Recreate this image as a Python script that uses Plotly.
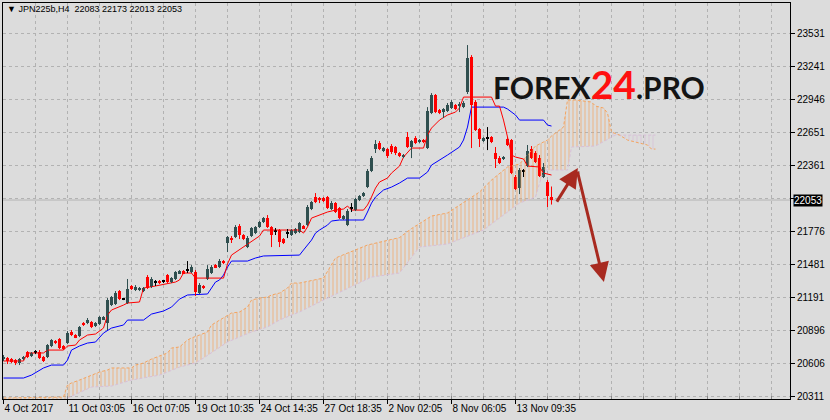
import plotly.graph_objects as go

# ---------------- data ----------------
symbol_text = "JPN225b,H4"
last_ohlc = [22083, 22173, 22013, 22053]
bid = 22053

tick_bars = [0, 16, 32, 48, 64, 80, 96, 112, 128]
tick_labels = ["4 Oct 2017", "11 Oct 03:05", "16 Oct 07:05", "19 Oct 10:35", "24 Oct 14:35",
               "27 Oct 18:35", "2 Nov 02:05", "8 Nov 06:05", "13 Nov 09:35"]
price_ticks = [23531, 23241, 22946, 22651, 22361, 21776, 21481, 21191, 20896, 20606, 20311]
hidden_grid = [22068]

open_ = [
    20643, 20652, 20643, 20634, 20608, 20643, 20705, 20670, 20705, 20705,
    20661, 20661, 20758, 20803, 20820, 20758, 20785, 20882, 20855, 20847,
    20962, 20962, 20971, 20936, 20953, 20998, 20962, 21122, 21131, 21246,
    21175, 21139, 21291, 21255, 21255, 21246, 21370, 21282, 21326, 21335,
    21335, 21388, 21326, 21353, 21406, 21423, 21432, 21415, 21415, 21229,
    21291, 21353, 21406, 21476, 21459, 21512, 21672, 21716, 21725, 21822,
    21743, 21636, 21734, 21760, 21813, 21858, 21894, 21813, 21778, 21787,
    21707, 21760, 21743, 21760, 21769, 21822, 21831, 21973, 22080, 22071,
    22071, 22080, 21973, 22026, 21982, 21884, 21831, 21982, 21964, 22053,
    22089, 22168, 22310, 22505, 22558, 22487, 22505, 22532, 22523, 22470,
    22434, 22611, 22523, 22602, 22567, 22585, 22514, 22824, 22984, 22851,
    22833, 22842, 22868, 22895, 22886, 22877, 23010, 23321, 22922, 22683,
    22576, 22602, 22611, 22470, 22425, 22417, 22594, 22585, 22257, 22159,
    22310, 22354, 22505, 22470, 22425, 22257, 22213, 22083]
high = [
    20679, 20661, 20652, 20643, 20652, 20670, 20714, 20705, 20723, 20723,
    20670, 20776, 20820, 20812, 20829, 20767, 20891, 20900, 20864, 20936,
    20971, 21007, 20980, 20971, 21024, 21024, 21184, 21202, 21246, 21255,
    21184, 21353, 21299, 21299, 21282, 21282, 21388, 21370, 21344, 21344,
    21344, 21397, 21370, 21423, 21432, 21432, 21512, 21476, 21432, 21317,
    21299, 21476, 21476, 21485, 21530, 21521, 21734, 21734, 21831, 21840,
    21751, 21734, 21813, 21822, 21867, 21902, 21920, 21822, 21805, 21796,
    21716, 21796, 21796, 21805, 21858, 21831, 22009, 22044, 22115, 22080,
    22080, 22089, 22044, 22035, 21991, 21920, 21973, 22026, 22071, 22097,
    22124, 22328, 22443, 22585, 22576, 22523, 22514, 22549, 22532, 22478,
    22461, 22656, 22585, 22620, 22594, 22594, 22877, 23001, 22993, 22860,
    22868, 22913, 22939, 22904, 22922, 22930, 23427, 23338, 22939, 22691,
    22611, 22700, 22620, 22523, 22443, 22443, 22611, 22594, 22275, 22337,
    22328, 22541, 22532, 22487, 22452, 22381, 22230, 22173]
low = [
    20625, 20599, 20608, 20590, 20590, 20634, 20652, 20661, 20687, 20643,
    20617, 20652, 20749, 20776, 20732, 20723, 20776, 20847, 20829, 20838,
    20936, 20953, 20918, 20927, 20944, 20989, 20900, 21113, 21122, 21166,
    21166, 21131, 21255, 21246, 21246, 21237, 21264, 21273, 21291, 21308,
    21317, 21317, 21317, 21344, 21397, 21397, 21406, 21406, 21202, 21220,
    21264, 21344, 21397, 21450, 21450, 21485, 21592, 21672, 21716, 21707,
    21698, 21627, 21725, 21751, 21805, 21849, 21805, 21636, 21743, 21636,
    21663, 21716, 21734, 21751, 21760, 21796, 21822, 21964, 22026, 22026,
    22035, 21973, 21964, 21938, 21884, 21876, 21822, 21947, 21955, 22044,
    22080, 22159, 22301, 22470, 22496, 22478, 22425, 22461, 22452, 22434,
    22425, 22514, 22425, 22549, 22558, 22558, 22505, 22815, 22824, 22815,
    22780, 22833, 22860, 22851, 22833, 22868, 22993, 22514, 22665, 22523,
    22567, 22496, 22558, 22337, 22372, 22408, 22532, 22283, 22142, 22106,
    22257, 22345, 22417, 22381, 22257, 22248, 21991, 22013]
close = [
    20661, 20625, 20617, 20608, 20643, 20661, 20661, 20696, 20709, 20652,
    20625, 20767, 20812, 20785, 20740, 20732, 20873, 20855, 20838, 20927,
    20944, 20989, 20927, 20962, 21015, 21015, 21166, 21193, 21228, 21175,
    21172, 21264, 21264, 21282, 21273, 21273, 21273, 21353, 21323, 21317,
    21332, 21326, 21361, 21415, 21423, 21406, 21429, 21459, 21238, 21299,
    21273, 21441, 21459, 21459, 21512, 21494, 21725, 21707, 21813, 21743,
    21707, 21716, 21805, 21813, 21858, 21894, 21813, 21743, 21775, 21680,
    21672, 21757, 21787, 21796, 21849, 21805, 21991, 22035, 22035, 22053,
    22044, 21982, 22026, 21947, 21894, 21911, 21955, 21979, 22062, 22089,
    22115, 22310, 22425, 22549, 22505, 22514, 22443, 22478, 22470, 22443,
    22452, 22523, 22576, 22558, 22585, 22567, 22842, 22984, 22833, 22824,
    22860, 22895, 22922, 22860, 22904, 22913, 23312, 22895, 22674, 22594,
    22602, 22599, 22567, 22417, 22381, 22434, 22541, 22292, 22150, 22319,
    22307, 22487, 22425, 22390, 22266, 22345, 22089, 22053]

# Ichimoku lines (bar index, price)
tenkan_bars = [0, 5, 6, 10, 11, 15, 16, 18, 19, 21, 23, 25, 26, 27, 30, 31, 34, 35, 38, 41, 43, 44, 45,
               47, 48, 55, 56, 57, 60, 62, 64, 65, 74, 75, 76, 77, 79, 81, 83, 85, 86, 87, 90, 91, 92,
               93, 94, 96, 97, 99, 100, 101, 102, 105, 106, 107, 109, 111, 113, 114, 115, 122, 123,
               124, 125, 126, 127, 128, 130, 131, 134, 135, 137]
tenkan_vals = [20626, 20626, 20697, 20697, 20723, 20723, 20759, 20767, 20812, 20856, 20865, 20918, 21033,
               21078, 21122, 21140, 21149, 21273, 21291, 21308, 21326, 21344, 21406, 21406, 21361, 21361,
               21486, 21565, 21636, 21681, 21734, 21787, 21787, 21760, 21814, 21893, 21920, 21947, 21964,
               21973, 22000, 21964, 21964, 22009, 22080, 22159, 22213, 22248, 22292, 22354, 22434, 22479,
               22514, 22514, 22629, 22691, 22762, 22807, 22833, 22869, 22966, 22966, 22886, 22886, 22762,
               22612, 22452, 22434, 22417, 22354, 22346, 22292, 22275]

kijun_bars = [0, 5, 7, 10, 12, 15, 16, 17, 19, 21, 23, 25, 27, 30, 31, 35, 37, 38, 40, 42, 43, 44, 46,
              51, 52, 53, 54, 55, 56, 57, 61, 63, 65, 74, 75, 77, 78, 79, 81, 82, 84, 90, 91, 92, 93, 94,
              95, 97, 99, 101, 104, 106, 107, 111, 114, 115, 116, 117, 125, 126, 128, 129, 135, 136, 137]
kijun_vals = [20475, 20475, 20501, 20564, 20590, 20590, 20634, 20723, 20759, 20785, 20794, 20874, 20918,
              20945, 20989, 20989, 21042, 21051, 21069, 21104, 21140, 21175, 21211, 21220, 21273, 21326,
              21344, 21388, 21459, 21512, 21512, 21539, 21557, 21565, 21610, 21698, 21760, 21787, 21831,
              21867, 21876, 21876, 21947, 22026, 22080, 22115, 22142, 22168, 22204, 22248, 22248, 22301,
              22363, 22452, 22523, 22585, 22700, 22877, 22877, 22860, 22807, 22762, 22762, 22718, 22709]

span_a_bars = [0, 15, 16, 17, 19, 22, 24, 26, 27, 32, 33, 35, 37, 39, 41, 42, 44, 46, 47, 49, 51, 52, 54,
               56, 57, 59, 61, 62, 64, 66, 67, 69, 71, 72, 74, 80, 83, 91, 99, 102, 106, 107, 111, 119,
               122, 126, 129, 132, 133, 136, 137, 140, 141, 143, 147, 148, 150, 151, 152, 154, 156, 159,
               161, 162, 163]
span_a_vals = [20298, 20306, 20413, 20431, 20457, 20501, 20528, 20546, 20564, 20564, 20590, 20608, 20643,
               20670, 20697, 20741, 20750, 20812, 20830, 20856, 20883, 20945, 20989, 21033, 21051, 21060,
               21104, 21166, 21184, 21193, 21211, 21228, 21273, 21317, 21317, 21361, 21539, 21654, 21720,
               21800, 21893, 21911, 21938, 22124, 22230, 22346, 22372, 22496, 22532, 22585, 22620, 22700,
               22940, 22940, 22922, 22886, 22869, 22824, 22656, 22629, 22585, 22558, 22541, 22505, 22505]

span_b_bars = [0, 15, 22, 27, 32, 36, 39, 41, 44, 48, 50, 56, 59, 62, 66, 69, 72, 74, 80, 92, 99, 104,
               111, 120, 125, 129, 133, 135, 141, 142, 148, 151, 152, 153, 162, 163]
span_b_vals = [20236, 20280, 20395, 20404, 20457, 20484, 20501, 20528, 20572, 20608, 20652, 20794, 20838,
               20883, 20927, 20989, 21033, 21060, 21166, 21370, 21406, 21636, 21663, 21787, 21920, 22026,
               22080, 22319, 22319, 22523, 22532, 22585, 22610, 22629, 22629, 22629]
cloud_switch_bar = 152

# hand-drawn forecast arrows (tail bar, tail price, tip bar, tip price)
arrow_tail_bar = [138.1, 143.4]
arrow_tail_price = [22026, 22319]
arrow_tip_bar = [143.6, 150.1]
arrow_tip_price = [22337, 21326]

# ---------------- styles ----------------
BG = "#dcdcdc"
GRID = "#b2b2b2"
BULL = "#2f4f4f"
BEAR = "#ff0000"
DOJI = "#000000"
SANDY = "#f4a460"
THISTLE = "#d8bfd8"
ARROW = "#a82a20"
FONT = "Liberation Sans"

fig = go.Figure()

# cloud fills (vertical hatch like MT4 dotted histogram)
def part(bars, vals, cond):
    pts = [(b, v) for b, v in zip(bars, vals) if cond(b)]
    return [p[0] for p in pts], [p[1] for p in pts]

for cond, col in [(lambda b: b <= cloud_switch_bar, SANDY), (lambda b: b >= cloud_switch_bar, THISTLE)]:
    bx, by = part(span_b_bars, span_b_vals, cond)
    ax_, ay_ = part(span_a_bars, span_a_vals, cond)
    fig.add_trace(go.Scatter(x=bx, y=by, mode="lines", line=dict(width=0), hoverinfo="skip"))
    fig.add_trace(go.Scatter(x=ax_, y=ay_, mode="lines", line=dict(width=0), hoverinfo="skip",
                             fill="tonexty", fillcolor="rgba(0,0,0,0)",
                             fillpattern=dict(shape="|", fgcolor=col, bgcolor="rgba(0,0,0,0)",
                                              size=4, solidity=0.22, fgopacity=0.8)))

fig.add_trace(go.Scatter(x=span_b_bars, y=span_b_vals, mode="lines",
                         line=dict(color=THISTLE, width=1, dash="3px,2px"), hoverinfo="skip"))
fig.add_trace(go.Scatter(x=span_a_bars, y=span_a_vals, mode="lines",
                         line=dict(color=SANDY, width=1, dash="3px,2px"), hoverinfo="skip"))
fig.add_trace(go.Scatter(x=kijun_bars, y=kijun_vals, mode="lines",
                         line=dict(color="#0000ff", width=1), hoverinfo="skip"))
fig.add_trace(go.Scatter(x=tenkan_bars, y=tenkan_vals, mode="lines",
                         line=dict(color="#ff0000", width=1), hoverinfo="skip"))

# candles
n = len(close)
idx = list(range(n))
kind = ["doji" if abs(c - o) < 5 else ("bull" if c > o else "bear") for o, c in zip(open_, close)]
colmap = {"bull": BULL, "bear": BEAR, "doji": DOJI}
for k in ["bull", "bear", "doji"]:
    xs, ys = [], []
    for i in idx:
        if kind[i] == k:
            xs += [i, i, None]
            ys += [low[i], high[i], None]
    fig.add_trace(go.Scatter(x=xs, y=ys, mode="lines", line=dict(color=colmap[k], width=1),
                             hoverinfo="skip", connectgaps=False))
fig.add_trace(go.Bar(x=idx, base=[min(o, c) for o, c in zip(open_, close)],
                     y=[max(abs(c - o), 9) for o, c in zip(open_, close)],
                     width=0.75, marker=dict(color=[colmap[k] for k in kind], line=dict(width=0)),
                     hoverinfo="skip"))

# bid line
fig.add_shape(type="line", xref="paper", x0=0, x1=1, yref="y", y0=bid, y1=bid,
              line=dict(color="#b4b4b4", width=1), layer="below")

annotations = [
    dict(xref="paper", yref="y", x=1, y=bid, xanchor="left", yanchor="middle", xshift=3,
         text=str(bid), showarrow=False, bgcolor="#000000", borderpad=0,
         font=dict(family=FONT, size=10, color="#ffffff")),
    dict(xref="paper", yref="paper", x=0, y=1, xanchor="left", yanchor="top", xshift=2, yshift=1,
         text="\u25bc " + symbol_text + "\u00a0\u00a0" + " ".join(str(v) for v in last_ohlc),
         showarrow=False, font=dict(family=FONT, size=9, color="#000000")),
    dict(xref="paper", yref="paper", x=0.62, y=0.795, xanchor="left", yanchor="middle",
         text="<b>FOREX<span style='color:#ff1010;font-size:39px'>24</span>.PRO</b>",
         showarrow=False, font=dict(family="Lato", size=30, color="#141414", weight=900)),
]
for tb, tp, hb, hp in zip(arrow_tail_bar, arrow_tail_price, arrow_tip_bar, arrow_tip_price):
    annotations.append(dict(x=hb, y=hp, ax=tb, ay=tp, xref="x", yref="y", axref="x", ayref="y",
                            text="", showarrow=True, arrowhead=2, arrowsize=1.3, arrowwidth=3,
                            arrowcolor=ARROW, standoff=0, startstandoff=0))

fig.update_layout(
    width=830, height=420, margin=dict(l=3, r=40, t=3, b=21, autoexpand=False),
    paper_bgcolor=BG, plot_bgcolor=BG, showlegend=False,
    font=dict(family=FONT, size=10, color="#000000"),
    annotations=annotations, bargap=0,
)
fig.update_xaxes(range=[-0.125, 196.625], tickvals=tick_bars, ticktext=tick_labels, tickangle=0,
                 automargin=False,
                 ticks="outside", ticklen=4, tickcolor="#000000", ticklabelposition="outside right",
                 tickfont=dict(size=10), showgrid=True, gridcolor=GRID, griddash="3px,3px", gridwidth=1,
                 showline=True, linecolor="#000000", linewidth=1, mirror=True, zeroline=False,
                 minor=dict(tick0=0, dtick=8, showgrid=True, gridcolor=GRID, griddash="3px,3px",
                            ticks="inside", ticklen=3, tickcolor="#888888"))
fig.update_yaxes(range=[20289, 23800], side="right", tickvals=price_ticks + hidden_grid,
                 automargin=False,
                 ticktext=[str(v) for v in price_ticks] + [""], ticks="outside", ticklen=4,
                 tickcolor="#000000", tickfont=dict(size=10), showgrid=True, gridcolor=GRID,
                 griddash="3px,3px", showline=True, linecolor="#000000", linewidth=1, mirror=True,
                 zeroline=False)

fig.write_html("out.html", config={"displayModeBar": False},
               post_script="document.body.style.margin='0px';document.body.style.background='" + BG + "';")
